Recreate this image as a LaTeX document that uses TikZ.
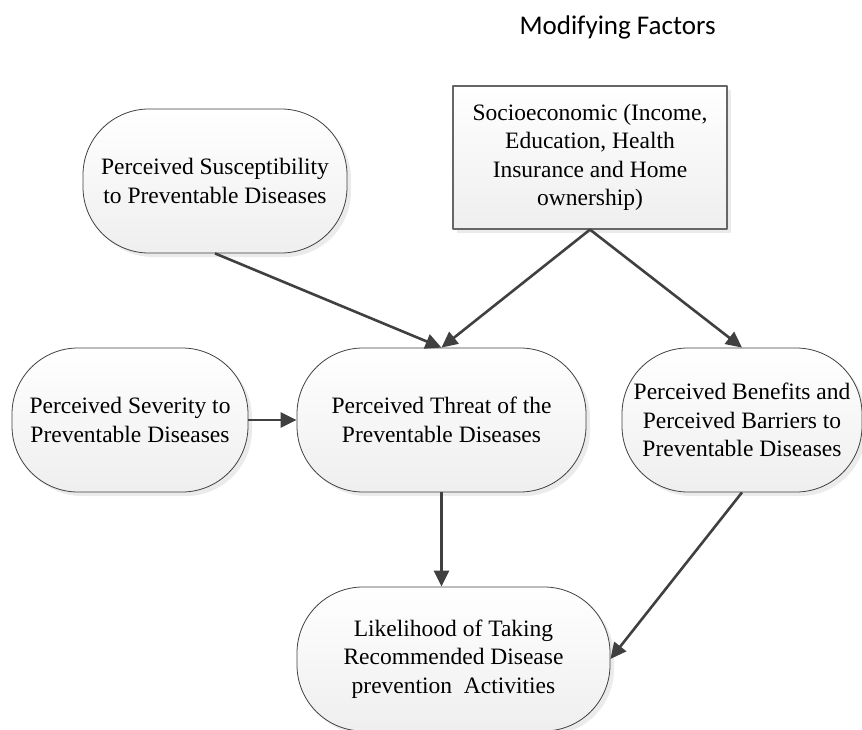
\documentclass[tikz,border=0pt]{standalone}
\usepackage{fontspec}
\setmainfont{Liberation Serif}
\newfontfamily\titlefont{Carlito}
\usetikzlibrary{arrows.meta,shadows}
\definecolor{edge}{HTML}{404040}
\begin{document}
\begin{tikzpicture}[x=1pt,y=-1pt,line join=round,
	>={Triangle[length=16pt,width=15pt]},
	font=\fontsize{23.5}{28.5}\selectfont,
	box/.style={draw=edge,line width=0.8pt,align=center,inner sep=0pt,
		minimum height=144pt,rounded corners=66pt,
		top color=white,bottom color=gray!13,
		drop shadow={shadow xshift=4pt,shadow yshift=-4pt,fill=gray!35,opacity=.45}},
	sqbox/.style={box,rounded corners=0pt,draw=gray!80!black,line width=1.2pt},
	link/.style={->,draw=edge,line width=2.6pt}]
	\useasboundingbox (0,0) rectangle (862,730);
	\node[anchor=base west,font=\titlefont\fontsize{27}{32}\selectfont] (title) at (516,35) {Modifying Factors};
	\node[box,minimum width=264pt] (sus) at (215,181) {Perceived Susceptibility\\to Preventable Diseases};
	\node[sqbox,minimum width=274pt,minimum height=143pt] (soc) at (590,157.5) {Socioeconomic (Income,\\Education, Health\\Insurance and Home\\ownership)};
	\node[box,minimum width=236pt] (sev) at (130,420) {Perceived Severity to\\Preventable Diseases};
	\node[box,minimum width=289pt] (thr) at (441.5,420) {Perceived Threat of the\\Preventable Diseases};
	\node[box,minimum width=240pt] (ben) at (742,420) {Perceived Benefits and\\Perceived Barriers to\\Preventable Diseases};
	\node[box,minimum width=313pt] (lik) at (453.5,659) {Likelihood of Taking\\Recommended Disease\\prevention\ \ Activities};
	% connectors
	\draw[link] (sus.south) -- (thr.north);
	\draw[link] (soc.south) -- (thr.north);
	\draw[link] (soc.south) -- (ben.north);
	\draw[link] (sev) -- (thr);
	\draw[link] (thr) -- (thr |- lik.north);
	\draw[link] (ben.south) -- (lik.east);
\end{tikzpicture}
\end{document}
